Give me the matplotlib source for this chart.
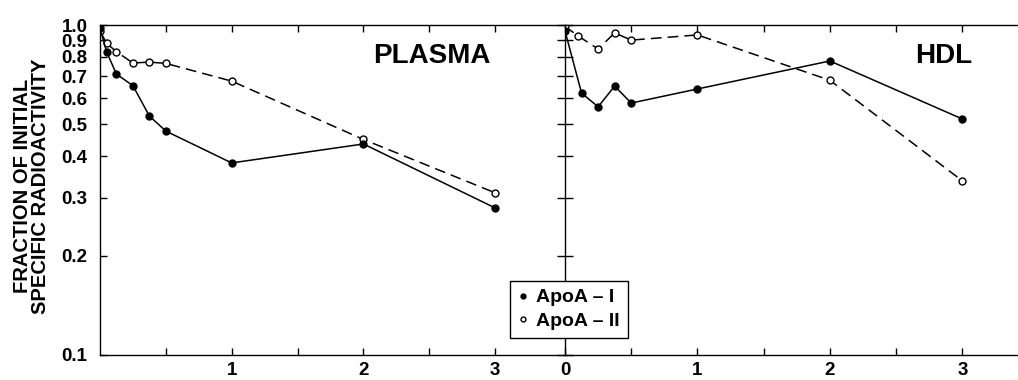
import matplotlib.pyplot as plt
from matplotlib.lines import Line2D

plt.rcParams['font.family'] = ['Liberation Sans', 'DejaVu Sans']
plt.rcParams['font.weight'] = 'bold'

# time (days) and fraction of initial specific radioactivity
plasma_x = [0, 0.05, 0.125, 0.25, 0.375, 0.5, 1, 2, 3]
plasma_apoa1 = [0.98, 0.83, 0.71, 0.655, 0.53, 0.477, 0.382, 0.436, 0.279]
plasma_apoa2 = [0.96, 0.88, 0.83, 0.767, 0.772, 0.765, 0.676, 0.45, 0.31]

hdl_x = [0, 0.125, 0.25, 0.375, 0.5, 1, 2, 3]
hdl_x2 = [0, 0.1, 0.25, 0.375, 0.5, 1, 2, 3]
hdl_apoa1 = [0.96, 0.622, 0.565, 0.653, 0.58, 0.64, 0.778, 0.519]
hdl_apoa2 = [0.99, 0.926, 0.846, 0.946, 0.90, 0.933, 0.68, 0.337]

yticks = [0.1, 0.2, 0.3, 0.4, 0.5, 0.6, 0.7, 0.8, 0.9, 1.0]
ytick_labels = ['0.1', '0.2', '0.3', '0.4', '0.5', '0.6', '0.7', '0.8', '0.9', '1.0']
xticks = [0.5, 1, 1.5, 2, 2.5, 3]

fig = plt.figure(figsize=(10.18, 3.8), dpi=100)
ax1 = fig.add_axes([0.0982, 0.0658, 0.4568, 0.8684])
ax2 = fig.add_axes([0.555, 0.0658, 0.445, 0.8684])

mk = dict(markersize=5, linewidth=1.1, color='black')
dash = (0, (7, 4))

ax1.plot(plasma_x, plasma_apoa2, marker='o', markerfacecolor='white', linestyle=dash, **mk)
ax1.plot(plasma_x, plasma_apoa1, marker='o', markerfacecolor='black', linestyle='-', **mk)
ax2.plot(hdl_x2, hdl_apoa2, marker='o', markerfacecolor='white', linestyle=dash, **mk)
ax2.plot(hdl_x, hdl_apoa1, marker='o', markerfacecolor='black', linestyle='-', **mk)

for ax in (ax1, ax2):
    ax.set_yscale('log')
    ax.set_ylim(0.1, 1.0)
    ax.set_yticks(yticks)
    ax.minorticks_off()
    ax.spines['right'].set_visible(False)
    for s in ('top', 'bottom', 'left'):
        ax.spines[s].set_linewidth(1.0)
    ax.tick_params(axis='x', which='both', direction='in', length=5, top=True,
                   labelsize=13.5, pad=5, width=1.0)

ax1.set_xlim(0, 3.53)
ax1.set_xticks(xticks)
ax1.set_xticklabels(['', '1', '', '2', '', '3'], fontweight='bold')
ax1.set_yticklabels(ytick_labels, fontsize=13.5, fontweight='bold')
ax1.tick_params(axis='y', direction='in', length=5, width=1.0, pad=9)

ax2.set_xlim(0, 3.42)
ax2.set_xticks([0] + xticks)
ax2.set_xticklabels(['0', '', '1', '', '2', '', '3'], fontweight='bold')
ax2.set_yticklabels([])
ax2.tick_params(axis='y', direction='inout', length=11, width=1.0)

ax1.text(0.839, 0.885, 'PLASMA', transform=ax1.transAxes, ha='right', va='baseline',
         fontsize=20, fontweight='bold')
ax2.text(0.898, 0.885, 'HDL', transform=ax2.transAxes, ha='right', va='baseline',
         fontsize=20, fontweight='bold')

fig.text(0.031, 0.51, 'FRACTION OF INITIAL\nSPECIFIC RADIOACTIVITY', rotation=90,
         ha='center', va='center', multialignment='center', fontsize=14.5,
         fontweight='bold', linespacing=0.95)

handles = [
    Line2D([], [], marker='o', color='black', markerfacecolor='black', linestyle='none', markersize=3.5),
    Line2D([], [], marker='o', color='black', markerfacecolor='white', linestyle='none', markersize=3.5),
]
leg = fig.legend(handles, ['ApoA – I', 'ApoA – II'], loc='center',
                 bbox_to_anchor=(0.559, 0.186), frameon=True, fancybox=False,
                 handlelength=0.5, handletextpad=0.45, borderpad=0.4,
                 labelspacing=0.3, prop={'size': 14, 'weight': 'bold'})
leg.get_frame().set_edgecolor('black')
leg.get_frame().set_linewidth(1.0)
leg.get_frame().set_alpha(1)

fig.savefig('out.png', dpi=100)
